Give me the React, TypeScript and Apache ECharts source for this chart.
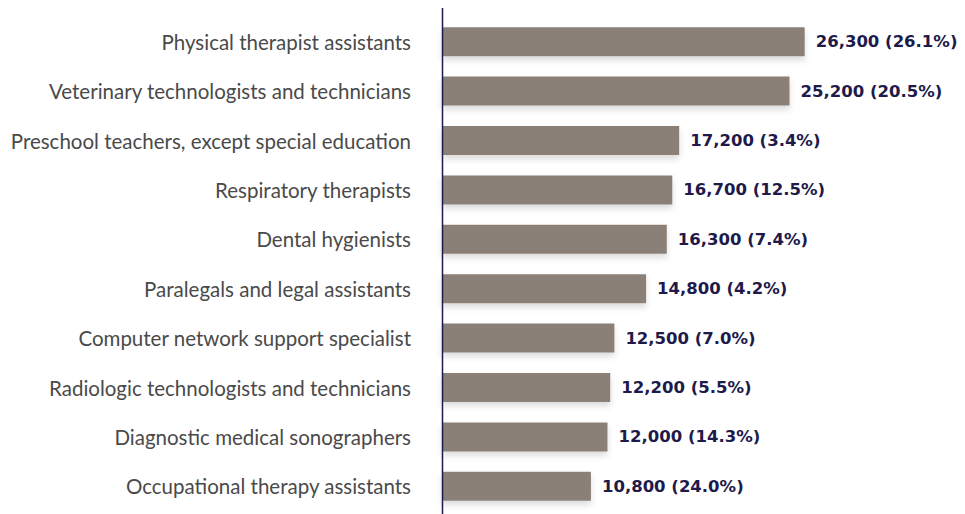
import React, { useEffect, useRef } from "react";
import * as echarts from "echarts";

const categories = [
  "Physical therapist assistants",
  "Veterinary technologists and technicians",
  "Preschool teachers, except special education",
  "Respiratory therapists",
  "Dental hygienists",
  "Paralegals and legal assistants",
  "Computer network support specialist",
  "Radiologic technologists and technicians",
  "Diagnostic medical sonographers",
  "Occupational therapy assistants",
];
const jobs = [26300, 25200, 17200, 16700, 16300, 14800, 12500, 12200, 12000, 10800];
const growth = ["26.1%", "20.5%", "3.4%", "12.5%", "7.4%", "4.2%", "7.0%", "5.5%", "14.3%", "24.0%"];

export default function App() {
  const ref = useRef<HTMLDivElement>(null);
  useEffect(() => {
    if (!ref.current) return;
    const chart = echarts.init(ref.current, null, { renderer: "svg" });
    const cats = [...categories].reverse();
    const vals = [...jobs].reverse();
    const gr = [...growth].reverse();
    chart.setOption({
      animation: false,
      grid: { left: 442, top: 17, height: 494, width: 413.7, containLabel: false },
      xAxis: { type: "value", min: 0, max: 30000, show: false },
      yAxis: {
        type: "category",
        data: cats,
        axisLine: { show: false },
        axisTick: { show: false },
        axisLabel: {
          margin: 31,
          fontFamily: "Lato",
          fontSize: 20.5,
          color: "#4a4a4a",
        },
      },
      graphic: [
        {
          type: "line",
          shape: { x1: 442.5, y1: 8, x2: 442.5, y2: 514 },
          style: { stroke: "#1f1a4d", lineWidth: 1.5 },
          z: 10,
        },
      ],
      series: [
        {
          type: "bar",
          data: vals,
          barWidth: 29,
          itemStyle: {
            color: "#8b8078",
            shadowColor: "rgba(0,0,0,0.14)",
            shadowBlur: 6,
            shadowOffsetY: 4,
          },
          label: {
            show: true,
            position: "right",
            distance: 11,
            fontFamily: "DejaVu Sans",
            fontWeight: "bold",
            fontSize: 16.5,
            color: "#201a4a",
            formatter: (p: any) =>
              p.value.toLocaleString("en-US") + " (" + gr[p.dataIndex] + ")",
          },
        },
      ],
    });
    return () => chart.dispose();
  }, []);
  return <div ref={ref} style={{ width: 965, height: 514, position: "absolute", left: 0, top: 0 }} />;
}
